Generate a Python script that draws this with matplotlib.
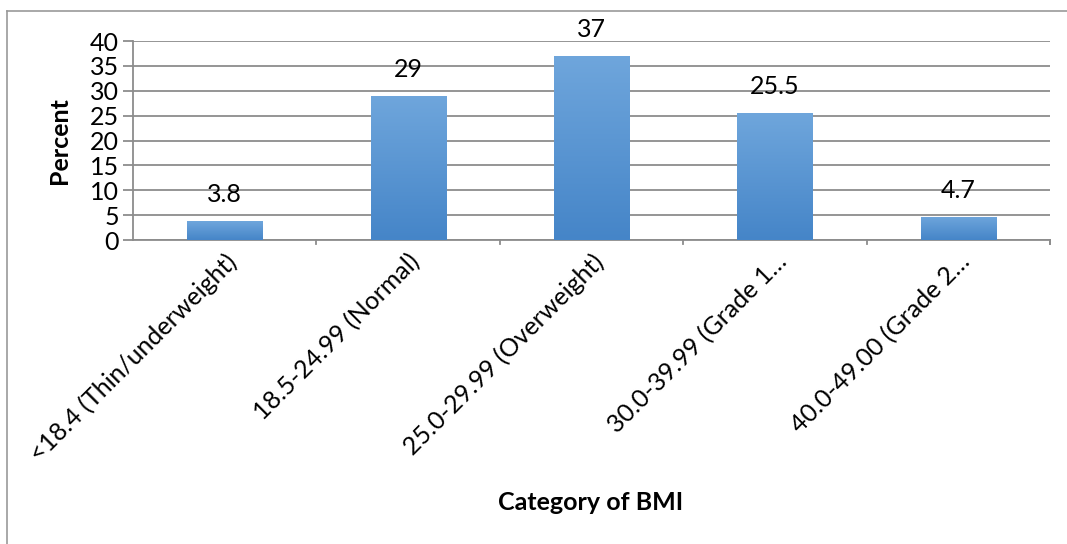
import numpy as np
import matplotlib.pyplot as plt
from matplotlib.colors import LinearSegmentedColormap
from matplotlib.lines import Line2D

categories = [
    "<18.4 (Thin/underweight)",
    "18.5-24.99 (Normal)",
    "25.0-29.99 (Overweight)",
    "30.0-39.99 (Grade 1\u2026",
    "40.0-49.00 (Grade 2\u2026",
]
percent = [3.8, 29, 37, 25.5, 4.7]
value_labels = ["3.8", "29", "37", "25.5", "4.7"]
yticks = [0, 5, 10, 15, 20, 25, 30, 35, 40]

plt.rcParams['font.family'] = ['Lato', 'DejaVu Sans']

W, H = 1067, 544
fig = plt.figure(figsize=(W / 100, H / 100), dpi=100)
ax = fig.add_axes([133 / W, 1 - 240 / H, (1050 - 133) / W, (240 - 41) / H])

grid_col = '#8c8c8c'
bar_cmap = LinearSegmentedColormap.from_list('bar', ['#4585c8', '#6fa6dc'])
fs = 18

x = np.arange(len(categories))
width = 0.41
bars = ax.bar(x, percent, width=width, color='none', edgecolor='none', zorder=3)

# vertical gradient fill clipped to each bar
grad = np.linspace(0, 1, 256).reshape(-1, 1)
for b in bars:
    x0, y0 = b.get_x(), b.get_y()
    im = ax.imshow(grad, cmap=bar_cmap, origin='lower', aspect='auto',
                   extent=(x0, x0 + b.get_width(), y0, y0 + b.get_height()),
                   zorder=3)
    im.set_clip_path(b)

for xi, v, lab in zip(x, percent, value_labels):
    ax.text(xi, v + 5.3, lab, ha='center', va='center', fontsize=fs, color='black')

ax.set_xlim(-0.5, len(categories) - 0.5)
ax.set_ylim(0, 40)
ax.set_yticks(yticks)
ax.set_yticklabels([str(t) for t in yticks], fontsize=fs)
ax.yaxis.grid(True, color=grid_col, linewidth=1.3, zorder=0)
ax.set_axisbelow(True)

ax.set_xticks(x)
ax.set_xticklabels(categories, rotation=45, ha='right', va='top',
                   rotation_mode='anchor', fontsize=fs)
ax.tick_params(axis='x', length=0, pad=7)
ax.tick_params(axis='y', length=7, color=grid_col, width=1.3, pad=3)

# category boundary ticks below the axis
for b in np.arange(0.5, len(categories), 1.0):
    ax.plot([b, b], [0, -0.9], color=grid_col, lw=1.3, clip_on=False)
ax.plot([len(categories) - 0.5] * 2, [0, -0.9], color=grid_col, lw=1.3, clip_on=False)

for s in ['top', 'right']:
    ax.spines[s].set_visible(False)
for s in ['left', 'bottom']:
    ax.spines[s].set_color(grid_col)
    ax.spines[s].set_linewidth(1.3)

ax.set_ylabel('Percent', fontsize=fs, fontweight='bold', labelpad=14)
fig.text(591 / W, 1 - 503 / H, 'Category of BMI', ha='center', va='center',
         fontsize=fs, fontweight='bold')

# outer chart frame
fig.add_artist(Line2D([7 / W, 1], [1 - 11 / H] * 2, color='#999999', lw=1.2))
fig.add_artist(Line2D([7 / W] * 2, [0, 1 - 11 / H], color='#999999', lw=1.2))

fig.savefig('out.png', dpi=100)
